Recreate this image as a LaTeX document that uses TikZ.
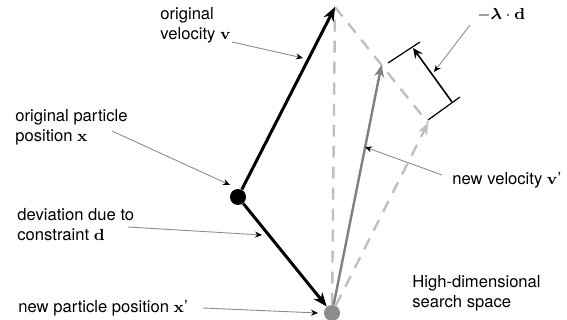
\documentclass[tikz,border=0pt]{standalone}
\usepackage{amsmath}
\usepackage[no-math]{fontspec}
\setmainfont{TeX Gyre Heros}
\usepackage{tikz}
\usetikzlibrary{arrows.meta,calc}

\begin{document}
\begin{tikzpicture}[
    x=0.5pt, y=-0.5pt,
    lab/.style={font=\fontsize{8.3}{10}\selectfont, align=left, inner sep=0pt},
    dot/.style={circle, fill=black, minimum size=8pt, inner sep=0pt},
    vecarr/.style={line width=1.5pt, -{Stealth[length=7pt,width=5.5pt]}},
    newarr/.style={draw=black!50, line width=1.2pt, -{Stealth[length=6pt,width=5pt]}},
    dashln/.style={draw=black!25, line width=1.2pt, dash pattern=on 6pt off 4.5pt},
    leader/.style={draw=black!45, line width=0.45pt,
                   -{Stealth[length=3.5pt,width=3pt,color=black]}},
    tickln/.style={line width=0.6pt},
    dimarr/.style={line width=0.8pt, -{Stealth[length=5pt,width=4.5pt]}},
]
\useasboundingbox (0,0) rectangle (567,320);

% Points of the construction
\coordinate (top) at (335,7);
\coordinate (corner) at (428,123);
\coordinate (mid) at ($(top)!0.5!(corner)$);
\node[dot] (xold) at (238,197) {};
\node[dot, fill=black!45] (xnew) at (332,313) {};

% Dashed parallelogram
\draw[dashln] (xnew) -- (top);
\draw[dashln] (top) -- (corner);
\draw[dashln, -{Stealth[length=6pt,width=5pt,open]}] (xnew) -- (corner);

% Velocities and deviation
\draw[vecarr] (xold) -- (top);
\draw[vecarr] (xold) -- (xnew);
\draw[newarr] (xnew) -- (mid);

% Dimension -lambda d
\coordinate (tka) at (388,63);
\coordinate (tkb) at (420,42);
\coordinate (tkc) at (428,120);
\coordinate (tkd) at (460,97);
\coordinate (dimlo) at (452,102);
\coordinate (dimhi) at (413,48);
\draw[tickln] (tka) -- (tkb);
\draw[tickln] (tkc) -- (tkd);
\draw[dimarr] (dimlo) -- (dimhi);

% Labels
\node[lab, anchor=west] (lvel) at (160,25) {original\\velocity $\mathbf{v}$};
\node[lab, anchor=west] (lpos) at (15,127) {original particle\\position $\mathbf{x}$};
\node[lab, anchor=west] (ldev) at (17,225) {deviation due to\\constraint $\mathbf{d}$};
\node[lab, anchor=base west] (lnpos) at (18,312) {new particle position $\mathbf{x}$'};
\node[lab, anchor=base west] (lnvel) at (452,185) {new velocity $\mathbf{v}$'};
\node[lab, anchor=west] (lspace) at (412,293) {High-dimensional\\search space};
\node[lab, anchor=west] (llam) at (477,15) {$-\boldsymbol{\lambda}\cdot\mathbf{d}$};

% Leader lines
\coordinate (velfrom) at (232,42);
\coordinate (velto) at (303,58);
\coordinate (posfrom) at (112,131);
\coordinate (posto) at (230,185);
\coordinate (devfrom) at (128,227);
\coordinate (devto) at (262,235);
\coordinate (npfrom) at (203,308);
\coordinate (npto) at (318,313);
\coordinate (nvfrom) at (442,175);
\coordinate (nvto) at (365,147);
\coordinate (lamfrom) at (470,25);
\coordinate (lamto) at (434,72);
\draw[leader] (velfrom) -- (velto);
\draw[leader] (posfrom) -- (posto);
\draw[leader] (devfrom) -- (devto);
\draw[leader] (npfrom) -- (npto);
\draw[leader] (nvfrom) -- (nvto);
\draw[leader] (lamfrom) -- (lamto);

\end{tikzpicture}
\end{document}
